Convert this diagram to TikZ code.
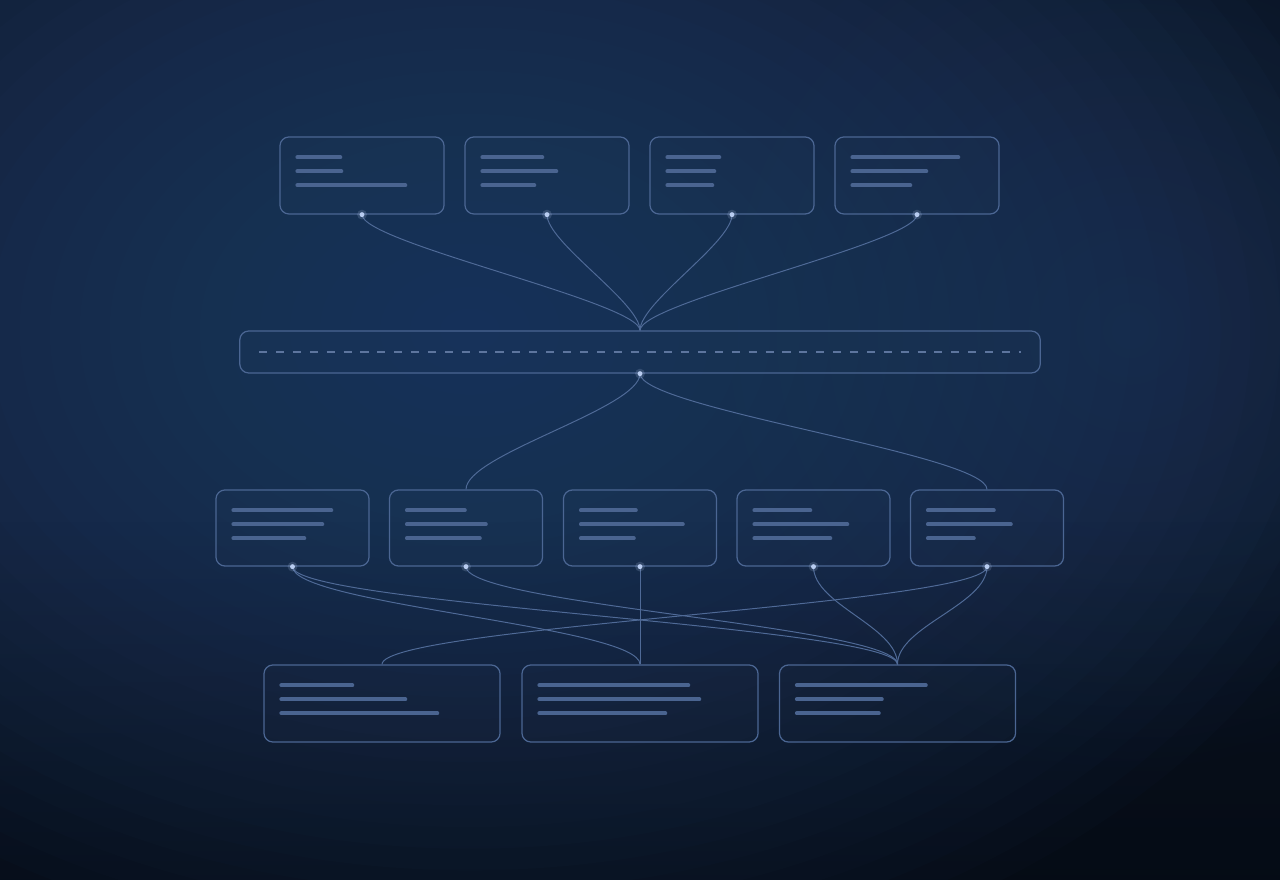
\documentclass[tikz,border=0pt]{standalone}
\usetikzlibrary{fadings}
\definecolor{bgcore}{HTML}{243F68}
\definecolor{bgedge}{HTML}{08111F}
\definecolor{bgside}{HTML}{1B3256}
\definecolor{cardedge}{HTML}{4B6693}
\definecolor{cardbarcol}{HTML}{4A6490}
\definecolor{wirecol}{HTML}{4F6A97}
\definecolor{dotglow}{HTML}{B8CCF0}
\tikzfading[name=softspot,inner color=transparent!0,outer color=transparent!100]
\newcommand{\cardbars}[4]{%
	\foreach \len [count=\k] in {#2,#3,#4}
		\draw[cardbar] ([shift={(18,7+14*\k)}]#1.north west) -- ++(\len-4,0);
}
\newcommand{\pin}[1]{%
	\fill[dotglow,opacity=.18] (#1) circle (1.4pt);
	\fill[dotglow] (#1) circle (.7pt);
}

\begin{document}
\begin{tikzpicture}[x=0.01cm,y=-0.01cm,
	card/.style={draw=cardedge,fill=white,fill opacity=.012,line width=.35pt,rounded corners=.9mm,inner sep=0pt},
	upcard/.style={card,minimum width=1.64cm,minimum height=.77cm},
	midcard/.style={card,minimum width=1.53cm,minimum height=.76cm},
	lowcard/.style={card,minimum width=2.36cm,minimum height=.77cm},
	buscard/.style={card,minimum width=8cm,minimum height=.42cm},
	cardbar/.style={cardbarcol,line width=1.1pt,line cap=round},
	busdash/.style={cardedge!90!white,line width=.4pt,dash pattern=on 2.3pt off 2.5pt},
	wire/.style={wirecol,line width=.28pt}]

	% backdrop
	\useasboundingbox (0,0) rectangle (1280,880);
	\begin{scope}
		\clip (0,0) rectangle (1280,880);
		\fill[bgedge] (0,0) rectangle (1280,880);
		\fill[bgside,opacity=.55,path fading=softspot] (1130,330) circle (4.5cm);
		\foreach \r in {0.3,0.6,...,9.6}
			\fill[bgcore,opacity=.062] (470,330) ellipse (\r cm and .72*\r cm);
		\fill[black,opacity=.3,path fading=north] (0,520) rectangle (1280,880);
	\end{scope}

	% cards
	\node[upcard] (t1) at (362,175.5) {};
	\node[upcard] (t2) at (547,175.5) {};
	\node[upcard] (t3) at (732,175.5) {};
	\node[upcard] (t4) at (917,175.5) {};

	\node[buscard] (bus) at (640,352) {};

	\node[midcard] (m1) at (292.5,528) {};
	\node[midcard] (m2) at (466,528) {};
	\node[midcard] (m3) at (640,528) {};
	\node[midcard] (m4) at (813.5,528) {};
	\node[midcard] (m5) at (987,528) {};

	\node[lowcard] (b1) at (382,703.5) {};
	\node[lowcard] (b2) at (640,703.5) {};
	\node[lowcard] (b3) at (897.5,703.5) {};

	\cardbars{t1}{47}{48}{112}
	\cardbars{t2}{64}{78}{56}
	\cardbars{t3}{56}{51}{49}
	\cardbars{t4}{110}{78}{62}

	\cardbars{m1}{102}{93}{75}
	\cardbars{m2}{62}{83}{77}
	\cardbars{m3}{59}{106}{57}
	\cardbars{m4}{60}{97}{80}
	\cardbars{m5}{70}{87}{50}

	\cardbars{b1}{75}{128}{160}
	\cardbars{b2}{153}{164}{130}
	\cardbars{b3}{133}{89}{86}

	\draw[busdash] ([xshift=.2cm]bus.west) -- ([xshift=-.2cm]bus.east);

	% wires
	\foreach \s in {t1,t2,t3,t4}
		\draw[wire] (\s.south) .. controls +(0,28) and +(0,-28) .. (bus.north);
	\foreach \e in {m2,m5}
		\draw[wire] (bus.south) .. controls +(0,35) and +(0,-35) .. (\e.north);

	\draw[wire] (m1.south) .. controls +(0,38) and +(0,-38) .. (b2.north);
	\draw[wire] (m1.south) .. controls +(0,38) and +(0,-38) .. (b3.north);
	\draw[wire] (m2.south) .. controls +(0,38) and +(0,-38) .. (b3.north);
	\draw[wire] (m3.south) -- (b2.north);
	\draw[wire] (m4.south) .. controls +(0,38) and +(0,-38) .. (b3.north);
	\draw[wire] (m5.south) .. controls +(0,38) and +(0,-38) .. (b3.north);
	\draw[wire] (m5.south) .. controls +(0,38) and +(0,-38) .. (b1.north);

	% glow dots
	\foreach \p in {t1,t2,t3,t4,bus,m1,m2,m3,m4,m5}
		{\pin{\p.south}}

\end{tikzpicture}
\end{document}
